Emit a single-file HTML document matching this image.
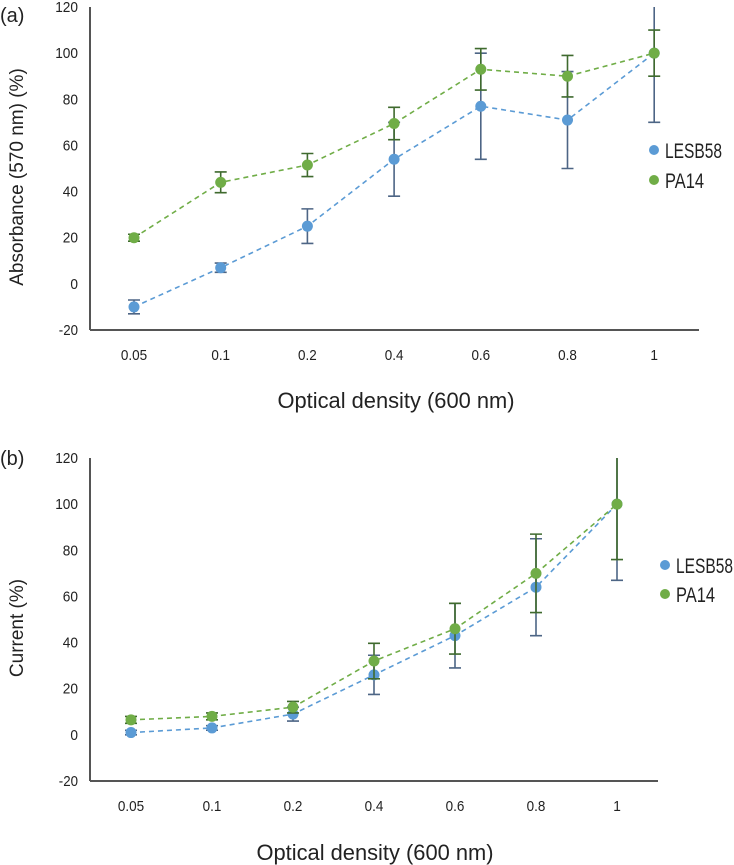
<!DOCTYPE html>
<html><head><meta charset="utf-8"><style>
html,body{margin:0;padding:0;background:#fff;}
svg{display:block;}
text{font-family:"Liberation Sans",sans-serif;fill:#222;}
.tk{font-size:15px;}
.ttl{font-family:"Liberation Sans",sans-serif;font-size:19px;}
</style></head><body>
<svg id="fig" width="734" height="865" viewBox="0 0 734 865"></svg>
<script>
const categories = ["0.05","0.1","0.2","0.4","0.6","0.8","1"];
const yTicks = [-20,0,20,40,60,80,100,120];
const aLesb = [-10,7,25,54,77,71,100];
const aLesbErr = [3,2,7.5,16,23,21,30];
const aPa14 = [20,44,51.5,69.5,93,90,100];
const aPa14Err = [1.5,4.5,5,7,9,9,10];
const bLesb = [1,3,9,26,43,64,100];
const bLesbErr = [1,1,3,8.5,14,21,33];
const bPa14 = [6.5,8,12,32,46,70,100];
const bPa14Err = [1.5,1.5,2.5,7.7,11,17,24];
const seriesNames = ["LESB58","PA14"];

const NS="http://www.w3.org/2000/svg";
const svg=document.getElementById('fig');
function mk(tag,attrs,parent){const e=document.createElementNS(NS,tag);for(const k in attrs)e.setAttribute(k,attrs[k]);(parent||svg).appendChild(e);return e;}
function tlen(s){let w=0;for(const ch of s){w+=(ch==='.'?3.5:(ch==='-'?4:7.6));}return w;}

function drawChart(o){
  const g=mk('g',{});
  
  
  const yScale=v=>o.y0-(v-(-20))*(o.y0-o.y1)/140;
  const xScale=i=>o.x0+i*o.dx;
  const pl=mk('text',{x:0,y:o.labelY,'font-size':20},g);
  pl.textContent=o.label;
  
  
  const ya=mk('line',{x1:o.ax,y1:yScale(120),x2:o.ax,y2:yScale(-20),stroke:'#555','stroke-width':2},g);
  
  
  const xa=mk('line',{x1:o.ax,y1:yScale(-20),x2:o.axEnd,y2:yScale(-20),stroke:'#555','stroke-width':2},g);
  
  
  yTicks.forEach(v=>{
    const s=String(v);
    const t=mk('text',{x:o.ax-12,y:yScale(v)+5,'text-anchor':'end',class:'tk',textLength:tlen(s),lengthAdjust:'spacingAndGlyphs'},g);
    t.textContent=s;
    
    
  });
  categories.forEach((c,i)=>{
    const t=mk('text',{x:xScale(i),y:yScale(-20)+30,'text-anchor':'middle',class:'tk',textLength:tlen(c),lengthAdjust:'spacingAndGlyphs'},g);
    t.textContent=c;
    
    
  });
  const xt=mk('text',{x:o.xtX,y:o.xtY,'text-anchor':'middle','font-size':22,textLength:237,lengthAdjust:'spacingAndGlyphs'},g);
  xt.textContent='Optical density (600 nm)';
  
  
  const yt=mk('text',{x:0,y:0,'text-anchor':'middle',class:'ttl',transform:`translate(${o.ytX},${o.ytY}) rotate(-90)`},g);
  yt.textContent=o.yTitle;
  
  
  const series=[
    {vals:o.s1,err:o.e1,col:'#5b9bd5',ecol:'#4d6585',name:seriesNames[0],tl:57},
    {vals:o.s2,err:o.e2,col:'#70ad47',ecol:'#3f6a2e',name:seriesNames[1],tl:39}
  ];
  series.forEach((s)=>{
    const pts=s.vals.map((v,i)=>xScale(i)+','+yScale(v)).join(' ');
    const ln=mk('polyline',{points:pts,fill:'none',stroke:s.col,'stroke-width':1.6,'stroke-dasharray':'5,4'},g);
    
    
  });
  series.forEach((s,si)=>{
    s.vals.forEach((v,i)=>{
      const x=xScale(i);
      const hi=Math.min(120,v+s.err[i]), lo=v-s.err[i];
      const eb=mk('path',{d:`M${x},${yScale(hi)}V${yScale(lo)}`+(v+s.err[i]<=120?`M${x-6},${yScale(hi)}h12`:'')+`M${x-6},${yScale(lo)}h12`,stroke:s.ecol,'stroke-width':1.6,fill:'none'},g);
      
      
      const c=mk('circle',{cx:x,cy:yScale(v),r:5.5,fill:s.col},g);
      
      
    });
    const ly=o.legY+si*o.legDy;
    const lc=mk('circle',{cx:o.legX,cy:ly,r:5,fill:s.col},g);
    
    
    const lt=mk('text',{x:o.legX+11,y:ly+8,'font-size':21,textLength:s.tl,lengthAdjust:'spacingAndGlyphs'},g);
    lt.textContent=s.name;
    
    
  });
}
drawChart({name:'chart-a',label:'(a)',labelY:22,x0:134,dx:86.7,ax:90,axEnd:699,y0:330,y1:7,
  s1:aLesb,e1:aLesbErr,s2:aPa14,e2:aPa14Err,xtX:396,xtY:408,ytX:23,ytY:177,yTitle:'Absorbance (570 nm) (%)',
  legX:654,legY:150,legDy:30});
drawChart({name:'chart-b',label:'(b)',labelY:465,x0:131,dx:81,ax:90,axEnd:658,y0:781,y1:458,
  s1:bLesb,e1:bLesbErr,s2:bPa14,e2:bPa14Err,xtX:375,xtY:860,ytX:23,ytY:628,yTitle:'Current (%)',
  legX:665,legY:565,legDy:29});
</script>
</body></html>
